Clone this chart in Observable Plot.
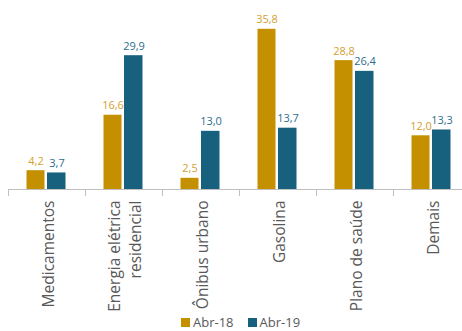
<!DOCTYPE html>
<html>
<head>
<meta charset="utf-8">
<script src="https://cdn.jsdelivr.net/npm/d3@7"></script>
<script src="https://cdn.jsdelivr.net/npm/@observablehq/plot@0.6"></script>
<style>
  html, body { margin: 0; padding: 0; background: #fff; overflow: hidden; }
  #chart svg { display: block; }
  .legend { display: flex; align-items: center; margin-left: 181px; margin-top: -2px;
            font-family: "Open Sans", sans-serif; font-size: 13px; color: #595959; line-height: 16px; }
  .legend .sw { width: 9px; height: 9px; display: inline-block; margin-right: 3px; }
  .legend .item { display: flex; align-items: center; margin-right: 14px; }
</style>
</head>
<body>
<div id="chart"></div>
<script>
const categories = ["Medicamentos", "Energia elétrica\nresidencial", "Ônibus urbano", "Gasolina", "Plano de saúde", "Demais"];
const seriesNames = ["Abr-18", "Abr-19"];
const abr18 = [4.2, 16.6, 2.5, 35.8, 28.8, 12.0];
const abr19 = [3.7, 29.9, 13.0, 13.7, 26.4, 13.3];
const colors = ["#c49000", "#17607e"];
const labelColors = ["#d4a030", "#2c6e8e"];

const d18 = categories.map((c, i) => ({cat: c, v: abr18[i]}));
const d19 = categories.map((c, i) => ({cat: c, v: abr19[i]}));
const fmt = v => v.toFixed(1).replace(".", ",");
const font = "Open Sans, sans-serif";

const chart = Plot.plot({
  width: 462,
  height: 316,
  marginLeft: 8,
  marginRight: -8,
  marginTop: 10,
  marginBottom: 127,
  style: {fontFamily: font, background: "#fff", overflow: "visible"},
  x: {type: "band", domain: categories, padding: 0, axis: null},
  y: {domain: [0, 40], axis: null},
  marks: [
    Plot.barY(d18, {x: "cat", y: "v", fill: colors[0], insetLeft: 18.5, insetRight: 40.5}),
    Plot.barY(d19, {x: "cat", y: "v", fill: colors[1], insetLeft: 39, insetRight: 19.5}),
    Plot.text(d18, {x: "cat", y: "v", text: d => fmt(d.v), dx: -11, dy: -6, lineAnchor: "bottom", fill: labelColors[0], fontSize: 11}),
    Plot.text(d19, {x: "cat", y: "v", text: d => fmt(d.v), dx: 10, dy: -6, lineAnchor: "bottom", fill: labelColors[1], fontSize: 11}),
    Plot.ruleY([0], {stroke: "#bfbfbf"}),
    Plot.ruleX(categories, {x: d => d, dx: -38.5, y1: 0, y2: 0, insetBottom: -7, stroke: "#bfbfbf"}),
    Plot.text(categories, {x: d => d, y: 0, dy: 11, rotate: -90, textAnchor: "end", lineAnchor: "middle", lineHeight: 1.35, fill: "#595959", fontSize: 15.5})
  ]
});
document.getElementById("chart").appendChild(chart);

const legend = document.createElement("div");
legend.className = "legend";
seriesNames.forEach((s, i) => {
  const it = document.createElement("span");
  it.className = "item";
  const sw = document.createElement("span");
  sw.className = "sw";
  sw.style.background = colors[i];
  it.appendChild(sw);
  it.appendChild(document.createTextNode(s));
  legend.appendChild(it);
});
document.body.appendChild(legend);
</script>
</body>
</html>
